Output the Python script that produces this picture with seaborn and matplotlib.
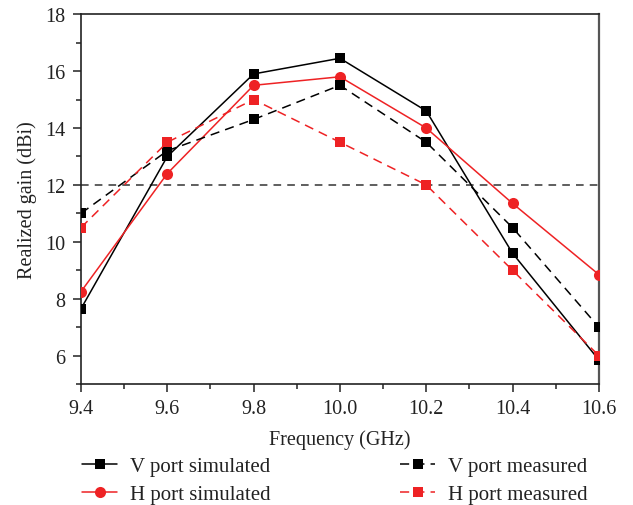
import matplotlib
matplotlib.use("Agg")
import matplotlib.pyplot as plt
import seaborn as sns
import pandas as pd
from matplotlib.ticker import MultipleLocator
from matplotlib.lines import Line2D

sns.set_theme(style="ticks")
plt.rcParams['font.family'] = ['Liberation Serif', 'DejaVu Serif']

freq = [9.4, 9.6, 9.8, 10.0, 10.2, 10.4, 10.6]
v_sim = [7.65, 13.0, 15.9, 16.45, 14.6, 9.6, 5.85]
h_sim = [8.25, 12.4, 15.5, 15.8, 14.0, 11.35, 8.85]
v_meas = [11.0, 13.2, 14.3, 15.5, 13.5, 10.5, 7.0]
h_meas = [10.5, 13.5, 15.0, 13.5, 12.0, 9.0, 6.0]
ref_level = 12

labels = ["V port simulated", "H port simulated", "V port measured", "H port measured"]
RED = "#ee2224"
BLACK = "#000000"

fig = plt.figure(figsize=(6.33, 5.06), dpi=100)
ax = fig.add_axes([0.128, 0.239, 0.818, 0.731])

ax.axhline(ref_level, color="#333333", linestyle=(0, (5, 4)), linewidth=1.1, zorder=1)

series = [
    (v_sim, BLACK, "s", "-", 7),
    (h_sim, RED, "o", "-", 8),
    (v_meas, BLACK, "s", (0, (6, 4)), 7),
    (h_meas, RED, "s", (0, (6, 4)), 7),
]
handles = []
for (vals, col, mk, ls, ms), lab in zip(series, labels):
    df = pd.DataFrame({"f": freq, "g": vals})
    sns.lineplot(data=df, x="f", y="g", ax=ax, color=col, marker=mk, linestyle=ls,
                 linewidth=1.1, markersize=ms, markeredgewidth=0, legend=False, zorder=3)
    handles.append(Line2D([], [], color=col, marker=mk, linestyle=ls, linewidth=1.1,
                          markersize=ms, markeredgewidth=0))

ax.set_xlim(9.4, 10.6)
ax.set_ylim(5, 18)
ax.xaxis.set_minor_locator(MultipleLocator(0.1))
ax.yaxis.set_minor_locator(MultipleLocator(1))
ax.set_xticks(freq)
ax.set_xticklabels([f"{f:.1f}" for f in freq])
ax.set_yticks([6, 8, 10, 12, 14, 16, 18])
ax.set_yticklabels(["6", "8", "10", "12", "14", "16", "18"])
ax.tick_params(axis="both", which="major", direction="out", length=6, width=1.1,
               labelsize=14.5, colors="#222222", labelcolor="#222222", pad=5)
ax.tick_params(axis="both", which="minor", direction="out", length=3.5, width=1.1, colors="#222222")
for s in ax.spines.values():
    s.set_visible(True)
    s.set_linewidth(1.2)
    s.set_color("#222222")
ax.spines["right"].set_color("#555555")
ax.spines["right"].set_linewidth(1.6)
ax.set_xlabel("Frequency (GHz)", fontsize=14.5, color="#222222", labelpad=8)
ax.set_ylabel("Realized gain (dBi)", fontsize=14.5, color="#222222", labelpad=6)

kw = dict(loc="upper left", frameon=False, fontsize=15, handlelength=1.7,
          labelspacing=0.4, handletextpad=0.6, borderpad=0, borderaxespad=0)
leg1 = fig.legend(handles[:2], labels[:2], bbox_to_anchor=(0.1295, 0.096), **kw)
leg2 = fig.legend(handles[2:], labels[2:], bbox_to_anchor=(0.632, 0.096), **kw)
for t in leg1.get_texts() + leg2.get_texts():
    t.set_color("#222222")

fig.savefig("out.png", dpi=100)
